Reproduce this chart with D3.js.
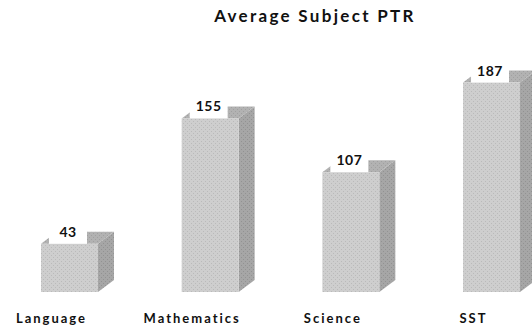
<!DOCTYPE html>
<html>
<head>
<meta charset="utf-8">
<script src="https://cdn.jsdelivr.net/npm/d3@7/dist/d3.min.js"></script>
<style>
  html, body { margin: 0; padding: 0; background: #fff; }
  svg { display: block; }
  text { font-family: Lato, "Open Sans", sans-serif; font-weight: bold; fill: #111; }
</style>
</head>
<body>
<div id="chart"></div>
<script>
// Average pupil-teacher ratio per subject
const subjects = ["Language", "Mathematics", "Science", "SST"];
const ptrValues = [43, 155, 107, 187];
const chartTitle = "Average Subject PTR";

const width = 532, height = 331;
const depthX = 16, depthY = 12;

const svg = d3.select("#chart").append("svg")
  .attr("width", width).attr("height", height);

// halftone-like dotted textures for the faces
const defs = svg.append("defs");
function dotted(id, base, dot) {
  const p = defs.append("pattern").attr("id", id)
    .attr("patternUnits", "userSpaceOnUse").attr("width", 4).attr("height", 4);
  p.append("rect").attr("width", 4).attr("height", 4).attr("fill", base);
  p.append("rect").attr("x", 1).attr("y", 1).attr("width", 1).attr("height", 1).attr("fill", dot);
  p.append("rect").attr("x", 3).attr("y", 3).attr("width", 1).attr("height", 1).attr("fill", dot);
}
dotted("frontTex", "#cecece", "#bababa");
dotted("sideTex", "#a6a6a6", "#929292");
dotted("topTex", "#b2b2b2", "#a0a0a0");

const x = d3.scaleBand()
  .domain(subjects)
  .range([41, 520])
  .paddingInner(0.595)
  .paddingOuter(0);

const y = d3.scaleLinear().domain([0, 200]).range([292, 68]);

const data = subjects.map((s, i) => ({ subject: s, value: ptrValues[i] }));

svg.append("text")
  .attr("x", 315).attr("y", 22)
  .attr("text-anchor", "middle")
  .attr("font-size", 17)
  .attr("letter-spacing", 2.3)
  .text(chartTitle);

const bars = svg.append("g").selectAll("g").data(data).join("g");

// side face
bars.append("path")
  .attr("fill", "url(#sideTex)")
  .attr("d", d => {
    const x1 = x(d.subject) + x.bandwidth(), t = y(d.value), b = y(0);
    return `M${x1},${t}L${x1 + depthX},${t - depthY}L${x1 + depthX},${b - depthY}L${x1},${b}Z`;
  });

// top face
bars.append("path")
  .attr("fill", "url(#topTex)")
  .attr("d", d => {
    const x0 = x(d.subject), x1 = x0 + x.bandwidth(), t = y(d.value);
    return `M${x0},${t}L${x0 + depthX},${t - depthY}L${x1 + depthX},${t - depthY}L${x1},${t}Z`;
  });

// front face
bars.append("rect")
  .attr("fill", "url(#frontTex)")
  .attr("x", d => x(d.subject))
  .attr("y", d => y(d.value))
  .attr("width", x.bandwidth())
  .attr("height", d => y(0) - y(d.value));

// value label on a white tab over the top face
bars.append("rect")
  .attr("fill", "#fff")
  .attr("x", d => x(d.subject) + 8)
  .attr("y", d => y(d.value) - depthY - 6)
  .attr("width", 38)
  .attr("height", depthY + 6);

bars.append("text")
  .attr("x", d => x(d.subject) + 27)
  .attr("y", d => y(d.value) - 7)
  .attr("text-anchor", "middle")
  .attr("font-size", 14)
  .attr("letter-spacing", 0.5)
  .text(d => d.value);

// category labels
svg.append("g").selectAll("text").data(data).join("text")
  .attr("x", d => x(d.subject) + x.bandwidth() / 2 - 18)
  .attr("y", 323)
  .attr("text-anchor", "middle")
  .attr("font-size", 13)
  .attr("letter-spacing", 2)
  .text(d => d.subject);
</script>
</body>
</html>
